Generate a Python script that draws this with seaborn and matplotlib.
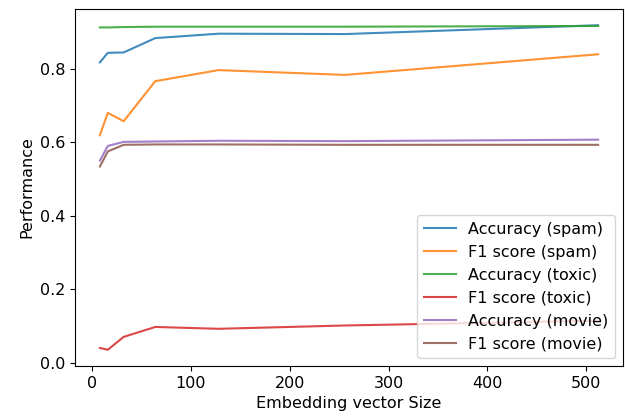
import pandas as pd
import matplotlib
matplotlib.use("Agg")
import matplotlib.pyplot as plt
import seaborn as sns

# Embedding sizes and scores
sizes = [8, 16, 32, 64, 128, 256, 512]
acc_spam = [0.817, 0.843, 0.844, 0.883, 0.895, 0.894, 0.918]
f1_spam = [0.619, 0.680, 0.657, 0.766, 0.796, 0.783, 0.839]
acc_toxic = [0.912, 0.912, 0.913, 0.914, 0.914, 0.914, 0.916]
f1_toxic = [0.041, 0.036, 0.071, 0.098, 0.093, 0.102, 0.115]
acc_movie = [0.550, 0.590, 0.601, 0.602, 0.604, 0.603, 0.607]
f1_movie = [0.534, 0.575, 0.593, 0.594, 0.594, 0.593, 0.593]

series = {
    'Accuracy (spam)': acc_spam,
    'F1 score (spam)': f1_spam,
    'Accuracy (toxic)': acc_toxic,
    'F1 score (toxic)': f1_toxic,
    'Accuracy (movie)': acc_movie,
    'F1 score (movie)': f1_movie,
}

rows = []
for name, vals in series.items():
    for s, v in zip(sizes, vals):
        rows.append({'size': s, 'value': v, 'metric': name})
df = pd.DataFrame(rows)

plt.rcParams['font.size'] = 11.5

fig, ax = plt.subplots(figsize=(6.25, 4.2), dpi=100)
fig.subplots_adjust(left=75/625, right=623/625, top=1-9/420, bottom=1-366/420)

sns.lineplot(data=df, x='size', y='value', hue='metric', palette='tab10',
             alpha=0.85, ax=ax)

ax.set_xlabel('Embedding vector Size')
ax.set_ylabel('Performance')
ax.legend(loc='lower right')

plt.savefig('out.png')
